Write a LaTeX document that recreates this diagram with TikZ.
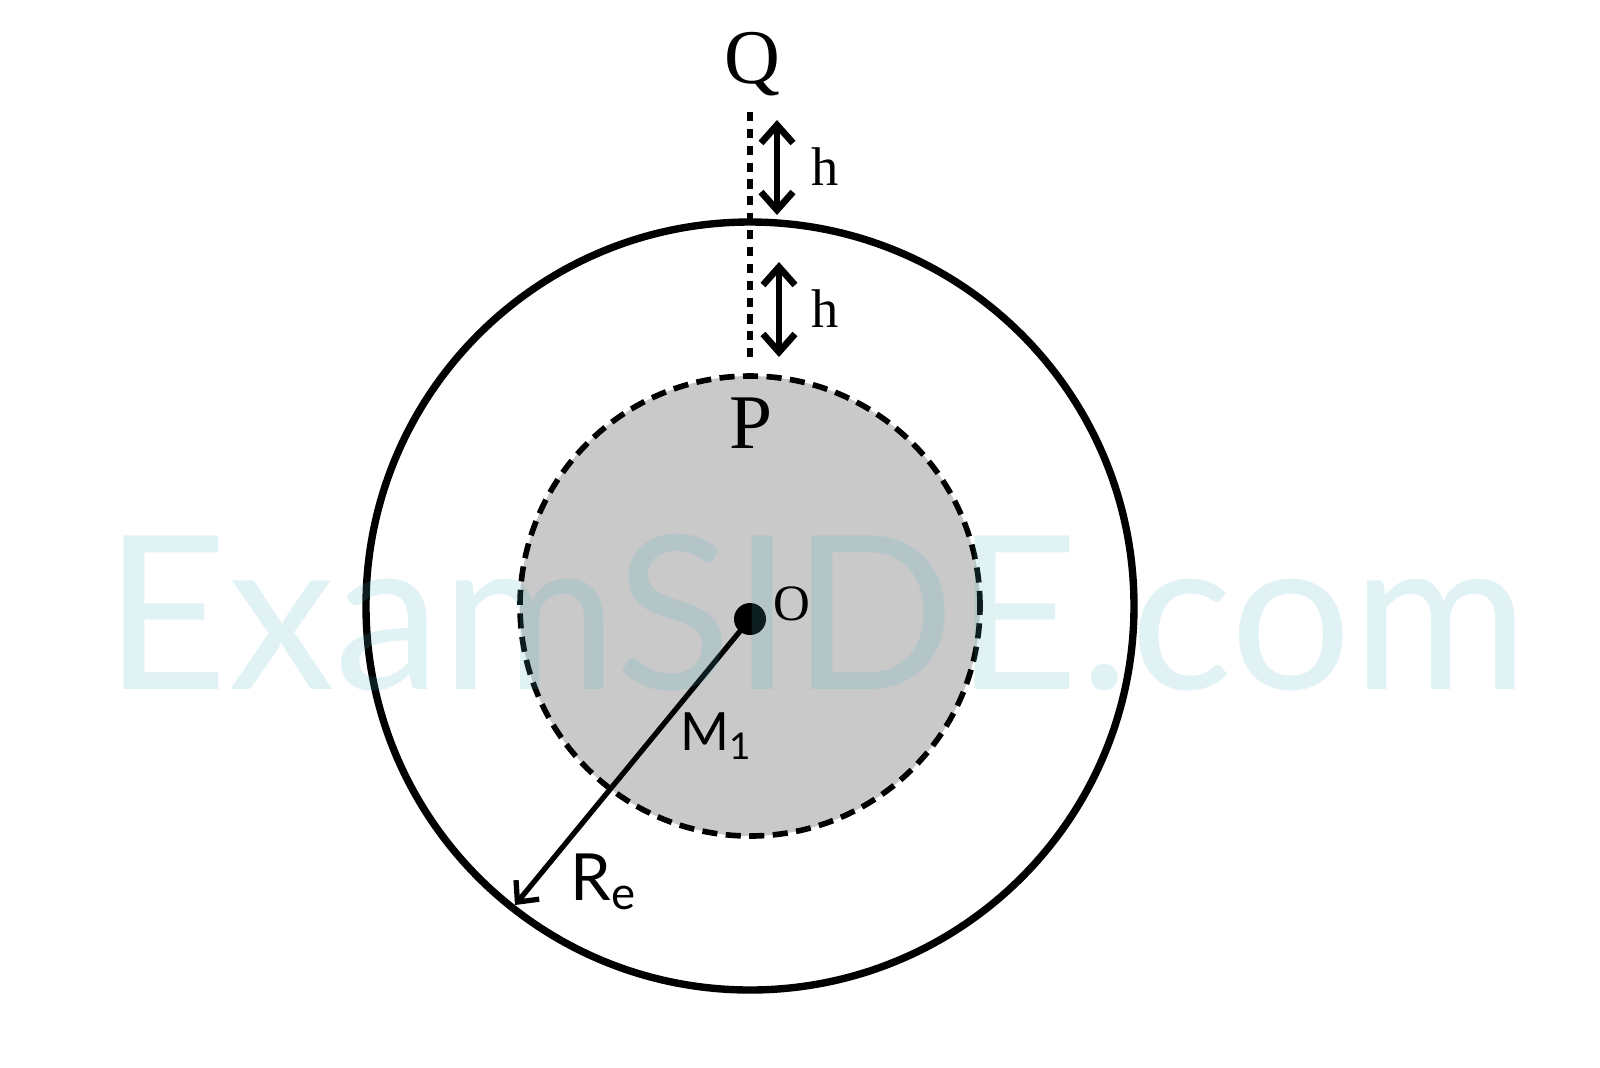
\documentclass[tikz,border=0pt]{standalone}
\usepackage{fontspec}
\setmainfont{Liberation Serif}
\newfontfamily\sanslabel{Lato}
\usetikzlibrary{arrows.meta}
\definecolor{coregray}{RGB}{201,201,201}
\definecolor{wmark}{RGB}{78,178,196}
\tikzset{
	harrow/.style={{Straight Barb[length=1.8mm,width=3.2mm]}-{Straight Barb[length=1.8mm,width=3.2mm]}, line width=1.9pt},
	rarrow/.style={-{Straight Barb[length=1.6mm,width=3mm]}, line width=1.5pt},
	dotline/.style={line width=1.6pt, dash pattern=on 2.6pt off 2.2pt},
	serifbig/.style={font=\fontsize{22}{24}\selectfont, inner sep=0pt, anchor=base},
	serifsmall/.style={font=\fontsize{15.5}{18}\selectfont, inner sep=0pt, anchor=base},
	sanstext/.style={font=\sanslabel\fontsize{15}{18}\selectfont, inner sep=0pt, anchor=base}
}
\begin{document}
\begin{tikzpicture}
	\useasboundingbox (-7.5,-4.61) rectangle (8.5,6.06);
	
	% Inner sphere and Earth
	\fill[coregray] (0,0) circle (2.3);
	\draw[line width=1.6pt, dash pattern=on 4.3pt off 2.4pt] (0,0) circle (2.3);
	\draw[line width=2.1pt] (0,0) circle (3.84);
	
	% Points
	\coordinate (O) at (0,-0.13);
	\coordinate (edge) at (-2.35,-2.99);
	\coordinate (vtop) at (0,4.94);
	\coordinate (vbot) at (0,2.41);
	\coordinate (h1a) at (0.27,4.86);
	\coordinate (h1b) at (0.27,3.91);
	\coordinate (h2a) at (0.29,3.44);
	\coordinate (h2b) at (0.29,2.49);
	
	% Dotted line and heights
	\draw[dotline] (vtop) -- (vbot);
	\draw[harrow] (h1a) -- (h1b);
	\draw[harrow] (h2a) -- (h2b);
	
	% Radius
	\draw[rarrow] (O) -- (edge);
	\fill (O) circle (0.16);
	
	% Labels
	\node[serifbig] (Q) at (0.02,5.23) {Q};
	\node[serifbig] (P) at (0.01,1.58) {P};
	\node[serifsmall, font=\fontsize{14.5}{17}\selectfont] (Olab) at (0.42,-0.14) {O};
	\node[serifsmall] (h1) at (0.75,4.21) {h};
	\node[serifsmall] (h2) at (0.75,2.79) {h};
	\node[sanstext] (M1) at (-0.33,-1.44) {M\textsubscript{1}};
	\node[sanstext, font=\sanslabel\fontsize{18.5}{21}\selectfont] (Re) at (-1.46,-2.94) {R\textsubscript{e}};
	
	% Watermark
	\node[font=\sanslabel\fontsize{61}{66}\selectfont, text=wmark, text opacity=0.17, inner sep=0pt, anchor=base] (wm) at (0.66,-0.83) {ExamSIDE.com};
\end{tikzpicture}
\end{document}
